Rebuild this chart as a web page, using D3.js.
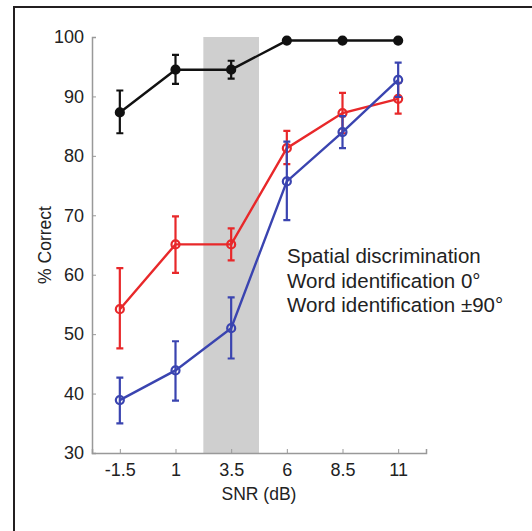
<!DOCTYPE html>
<html>

<head>
    <meta charset="UTF-8" />
    <script src="https://d3js.org/d3.v7.min.js"></script>
    <style>
        body { margin: 0; background: #fff; }
        text { font-family: "Liberation Sans", Arial, sans-serif; }
    </style>
</head>

<body>
    <script>
        // SNR levels (dB)
        const snr = [-1.5, 1, 3.5, 6, 8.5, 11];
        const xTicks = [-1.5, 1, 3.5, 6, 8.5, 11];
        const yTicks = [30, 40, 50, 60, 70, 80, 90, 100];

        // mean % correct and error bar bounds
        const spatial = [87.3, 94.5, 94.5, 99.4, 99.4, 99.4];
        const spatialLo = [83.8, 92.1, 93.0, 99.1, 99.1, 99.1];
        const spatialHi = [91.0, 97.0, 96.0, 99.7, 99.7, 99.7];

        const word0 = [54.2, 65.1, 65.1, 81.3, 87.2, 89.6];
        const word0Lo = [47.6, 60.3, 62.4, 78.6, 83.8, 87.1];
        const word0Hi = [61.1, 69.8, 67.8, 84.2, 90.6, 92.3];

        const word90 = [38.9, 43.9, 51.0, 75.7, 84.0, 92.8];
        const word90Lo = [35.0, 38.8, 45.9, 69.2, 81.3, 89.9];
        const word90Hi = [42.7, 48.8, 56.2, 82.4, 86.7, 95.7];

        const band = [2.25, 4.75];
        const legendLines = ["Spatial discrimination", "Word identification 0°", "Word identification ±90°"];

        const width = 532, height = 531;
        const margin = { top: 37, right: 106, bottom: 78, left: 92 };

        const svg = d3.select("body").append("svg")
            .attr("width", width)
            .attr("height", height);

        // outer frame (left and top edges visible)
        svg.append("path")
            .attr("d", `M14,${height} L14,7 L${width},7`)
            .attr("fill", "none")
            .attr("stroke", "#231f20")
            .attr("stroke-width", 2);

        const x = d3.scaleLinear()
            .domain([-2.75, 12.25])
            .range([margin.left, width - margin.right]);

        const y = d3.scaleLinear()
            .domain([30, 100])
            .range([height - margin.bottom, margin.top]);

        // shaded band
        svg.append("rect")
            .attr("x", x(band[0]))
            .attr("width", x(band[1]) - x(band[0]))
            .attr("y", y(100))
            .attr("height", y(30) - y(100))
            .attr("fill", "#cfcfcf");

        // axes
        const yAxis = svg.append("g")
            .attr("transform", `translate(${margin.left},0)`)
            .call(d3.axisLeft(y).tickValues(yTicks).tickSize(-4).tickPadding(8).tickFormat(d3.format("d")));
        const xAxis = svg.append("g")
            .attr("transform", `translate(0,${height - margin.bottom})`)
            .call(d3.axisBottom(x).tickValues(xTicks).tickSize(-4).tickPadding(10).tickFormat(d => String(d)));

        [xAxis, yAxis].forEach(g => {
            g.select(".domain").attr("stroke", "#999").attr("stroke-width", 1.5);
            g.selectAll(".tick line").attr("stroke", "#999");
            g.selectAll(".tick text")
                .attr("fill", "#222")
                .attr("font-size", 18)
                .style("font-family", "'Liberation Sans', Arial, sans-serif");
        });

        // axis titles
        svg.append("text")
            .attr("x", (x.range()[0] + x.range()[1]) / 2)
            .attr("y", 500)
            .attr("text-anchor", "middle")
            .attr("font-size", 17.5)
            .attr("fill", "#222")
            .text("SNR (dB)");

        svg.append("text")
            .attr("transform", `translate(51,${(y(30) + y(100)) / 2}) rotate(-90)`)
            .attr("text-anchor", "middle")
            .attr("font-size", 17.5)
            .attr("fill", "#222")
            .text("% Correct");

        const series = [
            { mean: spatial, lo: spatialLo, hi: spatialHi, color: "#111", filled: true },
            { mean: word0, lo: word0Lo, hi: word0Hi, color: "#e8282a", filled: false },
            { mean: word90, lo: word90Lo, hi: word90Hi, color: "#3a44b0", filled: false }
        ];

        const line = d3.line()
            .x((d, i) => x(snr[i]))
            .y(d => y(d));

        series.forEach(s => {
            const g = svg.append("g");
            g.append("path")
                .datum(s.mean)
                .attr("fill", "none")
                .attr("stroke", s.color)
                .attr("stroke-width", 2.4)
                .attr("d", line);

            const idx = d3.range(snr.length);
            g.selectAll(".err")
                .data(idx)
                .join("path")
                .attr("fill", "none")
                .attr("stroke", s.color)
                .attr("stroke-width", 2.2)
                .attr("d", i => {
                    const cx = x(snr[i]);
                    const y0 = y(s.lo[i]), y1 = y(s.hi[i]);
                    return `M${cx},${y0}L${cx},${y1}M${cx - 3.5},${y0}L${cx + 3.5},${y0}M${cx - 3.5},${y1}L${cx + 3.5},${y1}`;
                });

            g.selectAll("circle")
                .data(idx)
                .join("circle")
                .attr("cx", i => x(snr[i]))
                .attr("cy", i => y(s.mean[i]))
                .attr("r", 4)
                .attr("fill", s.filled ? s.color : "none")
                .attr("stroke", s.color)
                .attr("stroke-width", 2.2);
        });

        // legend text
        svg.append("g")
            .selectAll("text")
            .data(legendLines)
            .join("text")
            .attr("x", 287)
            .attr("y", (d, i) => 263 + i * 24.5)
            .attr("font-size", 20.5)
            .attr("fill", "#222")
            .text(d => d);
    </script>
</body>

</html>
